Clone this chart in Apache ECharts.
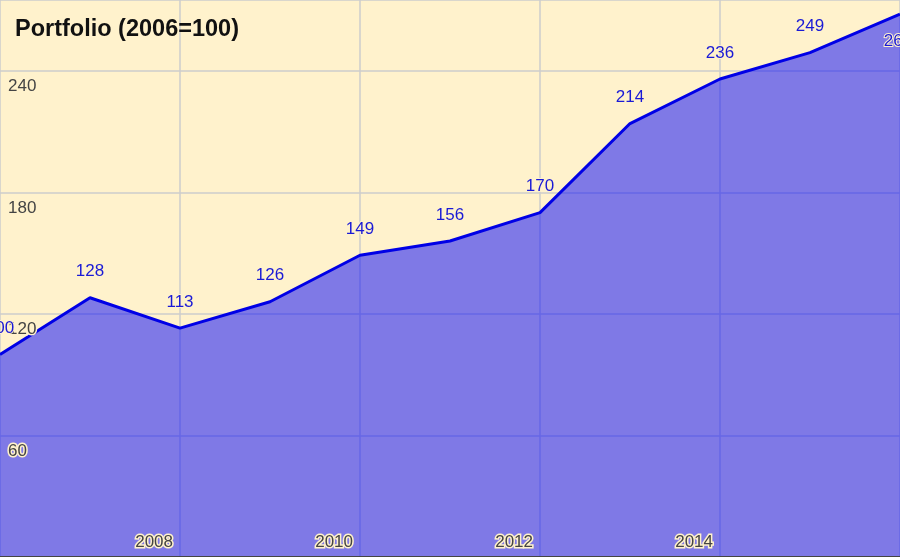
<!DOCTYPE html>
<html>
<head>
<meta charset="utf-8">
<script src="https://cdn.jsdelivr.net/npm/echarts@6/dist/echarts.min.js"></script>
<style>
html,body{margin:0;padding:0;background:#FFF2CC;}
#chart{width:900px;height:557px;}
</style>
</head>
<body>
<div id="chart"></div>
<script>
const years = [2006, 2007, 2008, 2009, 2010, 2011, 2012, 2013, 2014, 2015, 2016];
const values = [100, 128, 113, 126, 149, 156, 170, 214, 236, 249, 268];
const titleText = 'Portfolio (2006=100)';

const cream = '#FFF2CC';
const font = 'Liberation Sans, Arial, sans-serif';
const points = years.map((y, i) => [y, values[i]]);
const labelData = points.map((p, i) => {
  const item = { value: p };
  if (i === points.length - 1) {
    item.label = { position: 'bottom', distance: 18, offset: [-2, 0] };
  }
  return item;
});

const xBase = { type: 'value', min: 2006, max: 2016, interval: 2, position: 'bottom', offset: 0 };
const yBase = { type: 'value', min: 0, max: 275, interval: 60, position: 'left', offset: 0 };
const axisLabelStyle = {
  fontFamily: font, fontSize: 17, color: '#444',
  textBorderColor: cream, textBorderWidth: 3,
  showMinLabel: false, showMaxLabel: false
};

const chart = echarts.init(document.getElementById('chart'));
chart.setOption({
  backgroundColor: cream,
  animation: false,
  title: {
    text: titleText,
    left: 15, top: 18, padding: 0,
    textStyle: { fontFamily: font, fontWeight: 'bold', fontSize: 23.5, color: '#111' }
  },
  grid: { left: 0, right: 0, top: 0, bottom: 0, containLabel: false, outerBoundsMode: 'none' },
  xAxis: [
    Object.assign({}, xBase, {
      z: 0,
      axisLine: { show: false }, axisTick: { show: false }, axisLabel: { show: false },
      splitLine: { show: true, lineStyle: { color: '#cccccc', width: 1.5 } }
    }),
    Object.assign({}, xBase, {
      z: 5,
      axisLine: { show: true, onZero: false, lineStyle: { color: '#444', width: 2 } },
      axisTick: { show: false }, splitLine: { show: false },
      axisLabel: Object.assign({}, axisLabelStyle, {
        inside: true, margin: 6, align: 'right', verticalAlign: 'bottom',
        padding: [0, 7, 0, 0], formatter: v => String(v)
      })
    })
  ],
  yAxis: [
    Object.assign({}, yBase, {
      z: 0,
      axisLine: { show: false }, axisTick: { show: false }, axisLabel: { show: false },
      splitLine: { show: true, lineStyle: { color: '#cccccc', width: 1.5 } }
    }),
    Object.assign({}, yBase, {
      z: 5,
      axisLine: { show: false }, axisTick: { show: false }, splitLine: { show: false },
      axisLabel: Object.assign({}, axisLabelStyle, {
        inside: true, margin: 8, verticalAlign: 'top', padding: [7, 0, 0, 0]
      })
    })
  ],
  series: [{
    type: 'line', z: 2,
    xAxisIndex: 0, yAxisIndex: 0,
    data: points,
    symbol: 'none',
    lineStyle: { color: '#0000E6', width: 3 },
    areaStyle: { color: '#0000FF', opacity: 0.5 }
  }, {
    type: 'scatter', z: 8,
    xAxisIndex: 0, yAxisIndex: 0,
    data: labelData,
    symbolSize: 1,
    itemStyle: { color: 'rgba(0,0,0,0)', opacity: 1 },
    emphasis: { disabled: true },
    label: {
      show: true, position: 'top', distance: 17,
      formatter: p => String(p.value[1]),
      fontFamily: font, fontSize: 17, color: '#1a1ad6', opacity: 1,
      textBorderColor: cream, textBorderWidth: 2
    }
  }]
});
</script>
</body>
</html>
